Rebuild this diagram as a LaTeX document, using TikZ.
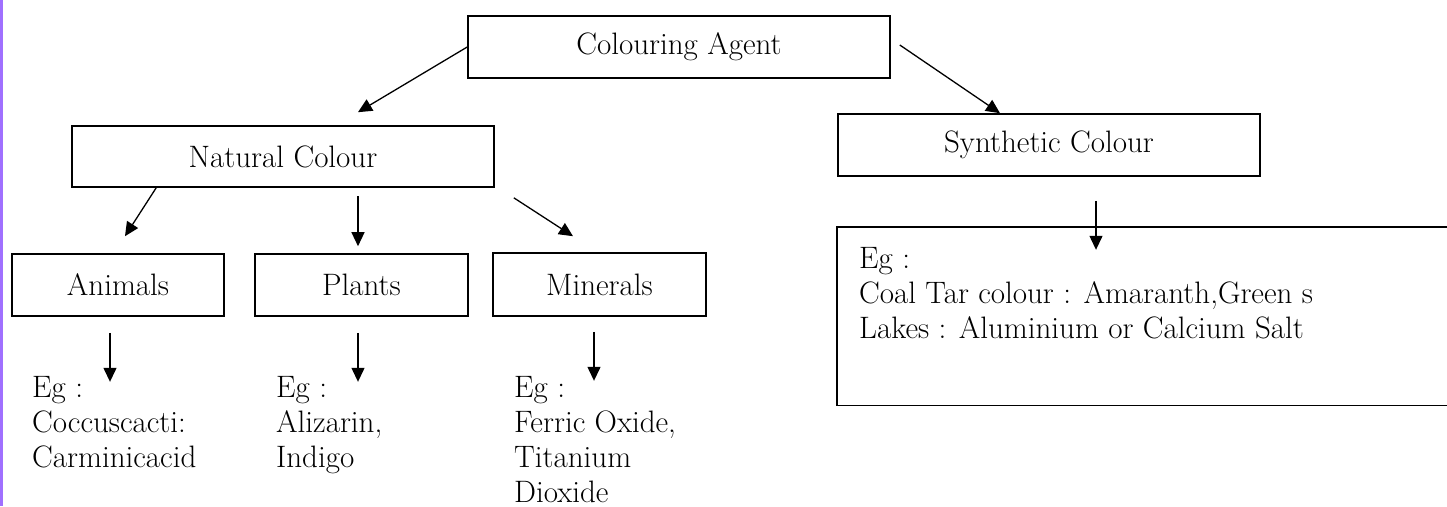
\documentclass[tikz,border=0pt]{standalone}
\usetikzlibrary{arrows.meta,calc}
\definecolor{edgepurple}{RGB}{160,112,255}
\begin{document}
\begin{tikzpicture}[x=1pt,y=-1pt,
  box/.style={draw,line width=1.6pt,inner sep=0pt,font=\fontsize{31}{35}\selectfont},
  egtext/.style={inner sep=0pt,anchor=base west,align=left,font=\fontsize{31}{34.7}\selectfont},
  arr/.style={line width=1.3pt,-{Triangle[length=14pt,width=13pt]}}]
\useasboundingbox (0,0) rectangle (1447,506);
\fill[edgepurple] (0,0) rectangle (2.5,506);
% boxes
\node[box,minimum width=422pt,minimum height=62pt] (ca) at (679,47) {Colouring Agent};
\node[box,minimum width=422pt,minimum height=61pt] (nat) at (283,156.5) {Natural Colour};
\node[box,minimum width=422pt,minimum height=62pt] (syn) at (1049,145) {Synthetic Colour};
\node[box,minimum width=212pt,minimum height=62pt] (anim) at (118,285) {Animals};
\node[box,minimum width=213pt,minimum height=62pt] (plants) at (361.5,285) {Plants};
\node[box,minimum width=213pt,minimum height=63pt] (mins) at (599.5,284.5) {Minerals};
\node[inner sep=0pt,anchor=north west,minimum width=610pt,minimum height=178pt] (synbox) at (837,227) {};
\draw[line width=1.6pt] (synbox.north east) -- (synbox.north west) -- (synbox.south west) -- (synbox.south east);
% example texts (anchor = baseline of the last line)
\node[egtext] (aeg) at (32,467) {Eg :\\Coccuscacti:\\Carminicacid};
\node[egtext] (peg) at (276,467) {Eg :\\Alizarin,\\Indigo};
\node[egtext] (meg) at (514,502) {Eg :\\Ferric Oxide,\\Titanium\\Dioxide};
\node[egtext] (seg) at (859,338) {Eg :\\Coal Tar colour : Amaranth,Green s\\Lakes : Aluminium or Calcium Salt};
% arrows
\draw[arr] (ca.west) -- ($(nat.north)+(75,-13)$);
\draw[arr] ($(ca.east)+(9,-2)$) -- ($(syn.north)+(-49,0)$);
\draw[arr] ($(nat.south west)+(85,0)$) -- ($(anim.north)+(7,-17)$);
\draw[arr] ($(plants.north)+(-3.5,-57)$) -- ($(plants.north)+(-3.5,-7)$);
\draw[arr] ($(nat.south east)+(19,10)$) -- ($(mins.north)+(-26.5,-16)$);
\draw[arr] ($(anim.south)+(-8,16)$) -- ($(anim.south)+(-8,65)$);
\draw[arr] ($(plants.south)+(-3.5,16)$) -- ($(plants.south)+(-3.5,65)$);
\draw[arr] ($(mins.south)+(-5.5,15)$) -- ($(mins.south)+(-5.5,64)$);
\draw[arr] ($(syn.south)+(47,24)$) -- ($(syn.south)+(47,73)$);
\end{tikzpicture}
\end{document}
